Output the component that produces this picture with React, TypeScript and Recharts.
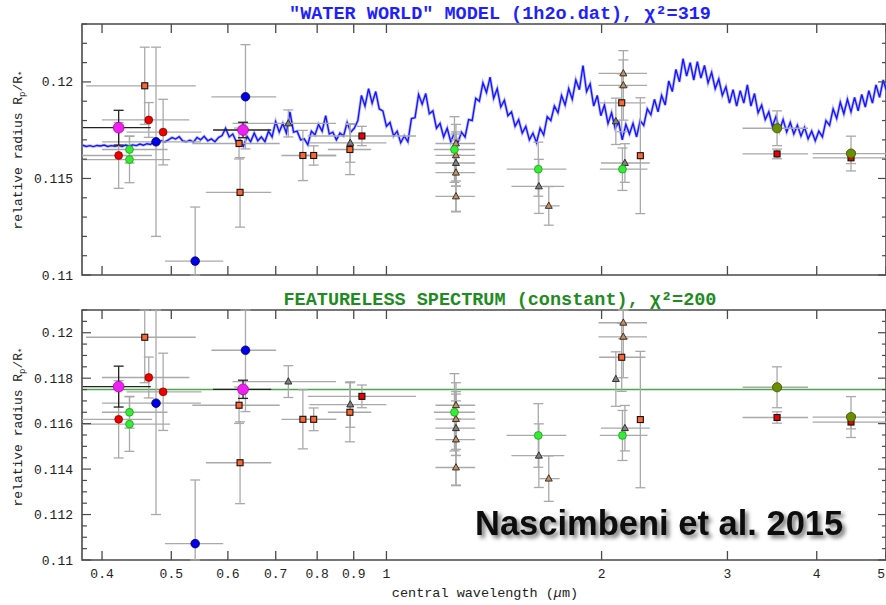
import React from "react";
import {
  ComposedChart,
  ErrorBar,
  Line,
  ReferenceArea,
  ReferenceLine,
  Scatter,
  XAxis,
  YAxis,
} from "recharts";

// ---- axes ----
const WAVE_DOMAIN: [number, number] = [0.375, 5];
const WAVE_TICKS = [0.4, 0.5, 0.6, 0.7, 0.8, 0.9, 1, 2, 3, 4, 5];
const WAVE_TICK_LABELS = ["0.4", "0.5", "0.6", "0.7", "0.8", "0.9", "1", "2", "3", "4", "5"];

const TOP_DOMAIN: [number, number] = [0.11, 0.123];
const TOP_TICKS = [0.11, 0.111, 0.112, 0.113, 0.114, 0.115, 0.116, 0.117, 0.118, 0.119, 0.12, 0.121, 0.122, 0.123];
const TOP_MAJOR = [0.11, 0.115, 0.12];
const TOP_MAJOR_LABELS = ["0.11", "0.115", "0.12"];

const BOTTOM_DOMAIN: [number, number] = [0.11, 0.121];
const BOTTOM_TICKS = [
  0.11, 0.1105, 0.111, 0.1115, 0.112, 0.1125, 0.113, 0.1135, 0.114, 0.1145, 0.115, 0.1155,
  0.116, 0.1165, 0.117, 0.1175, 0.118, 0.1185, 0.119, 0.1195, 0.12, 0.1205, 0.121,
];
const BOTTOM_MAJOR = [0.11, 0.112, 0.114, 0.116, 0.118, 0.12];
const BOTTOM_MAJOR_LABELS = ["0.11", "0.112", "0.114", "0.116", "0.118", "0.12"];

// featureless (constant) model
const FLAT_RADIUS = 0.1175;

// "water world" model, sampled in log10(wavelength / micron)
const MODEL_LOGW = [
  -0.425, -0.42, -0.415, -0.41, -0.405, -0.4, -0.395, -0.39, -0.385, -0.38,
  -0.375, -0.37, -0.365, -0.36, -0.355, -0.35, -0.345, -0.34, -0.335, -0.33,
  -0.325, -0.32, -0.315, -0.31, -0.305, -0.3, -0.295, -0.29, -0.285, -0.28,
  -0.275, -0.27, -0.265, -0.26, -0.255, -0.25, -0.245, -0.24, -0.235, -0.23,
  -0.225, -0.22, -0.215, -0.21, -0.205, -0.2, -0.195, -0.19, -0.185, -0.18,
  -0.175, -0.17, -0.165, -0.16, -0.155, -0.15, -0.145, -0.14, -0.135, -0.13,
  -0.125, -0.12, -0.115, -0.11, -0.105, -0.1, -0.095, -0.09, -0.085, -0.08,
  -0.075, -0.07, -0.065, -0.06, -0.055, -0.05, -0.045, -0.04, -0.035, -0.03,
  -0.025, -0.02, -0.015, -0.01, -0.005, 0, 0.005, 0.01, 0.015, 0.02,
  0.025, 0.03, 0.035, 0.04, 0.045, 0.05, 0.055, 0.06, 0.065, 0.07,
  0.075, 0.08, 0.085, 0.09, 0.095, 0.1, 0.105, 0.11, 0.115, 0.12,
  0.125, 0.13, 0.135, 0.14, 0.145, 0.15, 0.155, 0.16, 0.165, 0.17,
  0.175, 0.18, 0.185, 0.19, 0.195, 0.2, 0.205, 0.21, 0.215, 0.22,
  0.225, 0.23, 0.235, 0.24, 0.245, 0.25, 0.255, 0.26, 0.265, 0.27,
  0.275, 0.28, 0.285, 0.29, 0.295, 0.3, 0.305, 0.31, 0.315, 0.32,
  0.325, 0.33, 0.335, 0.34, 0.345, 0.35, 0.355, 0.36, 0.365, 0.37,
  0.375, 0.38, 0.385, 0.39, 0.395, 0.4, 0.405, 0.41, 0.415, 0.42,
  0.425, 0.43, 0.435, 0.44, 0.445, 0.45, 0.455, 0.46, 0.465, 0.47,
  0.475, 0.48, 0.485, 0.49, 0.495, 0.5, 0.505, 0.51, 0.515, 0.52,
  0.525, 0.53, 0.535, 0.54, 0.545, 0.55, 0.555, 0.56, 0.565, 0.57,
  0.575, 0.58, 0.585, 0.59, 0.595, 0.6, 0.605, 0.61, 0.615, 0.62,
  0.625, 0.63, 0.635, 0.64, 0.645, 0.65, 0.655, 0.66, 0.665, 0.67,
  0.675, 0.68, 0.685, 0.69, 0.695, 0.7,
];
const MODEL_R = [
  0.11672, 0.11666, 0.1167, 0.11665, 0.11671, 0.11668, 0.11673, 0.11666, 0.1167, 0.11667,
  0.11671, 0.11666, 0.11673, 0.11668, 0.11674, 0.1167, 0.11678, 0.11672, 0.1168, 0.11676,
  0.11692, 0.11686, 0.11695, 0.11689, 0.117, 0.11712, 0.11704, 0.11716, 0.11694, 0.1169,
  0.11698, 0.11688, 0.11712, 0.117, 0.11718, 0.11695, 0.11705, 0.1169, 0.11712, 0.11722,
  0.1176, 0.11715, 0.1173, 0.1169, 0.117, 0.11668, 0.11718, 0.1169, 0.11735, 0.11695,
  0.11715, 0.1169, 0.11745, 0.11715, 0.11795, 0.1174, 0.11785, 0.11735, 0.11845, 0.1174,
  0.11745, 0.117, 0.11705, 0.11675, 0.11745, 0.11725, 0.1178, 0.11745, 0.11825, 0.1173,
  0.1174, 0.117, 0.11735, 0.1172, 0.1179, 0.1174, 0.1176, 0.118, 0.1193, 0.11875,
  0.11965, 0.1189, 0.1195, 0.1186, 0.1185, 0.1177, 0.1179, 0.1172, 0.11745, 0.11685,
  0.1172, 0.1169, 0.1181, 0.11815, 0.11935, 0.11885, 0.1194, 0.11835, 0.1185, 0.1176,
  0.11785, 0.11715, 0.1176, 0.1169, 0.11735, 0.11685, 0.1174, 0.11715, 0.11805, 0.118,
  0.11915, 0.119, 0.11995, 0.11945, 0.12025, 0.11915, 0.11965, 0.1187, 0.11905, 0.11825,
  0.11845, 0.1177, 0.11805, 0.11735, 0.1177, 0.117, 0.11735, 0.11685, 0.1176, 0.11725,
  0.1182, 0.118, 0.11875, 0.1184, 0.1193, 0.1188, 0.11965, 0.1191, 0.1201, 0.1196,
  0.12085, 0.1195, 0.1199, 0.11875, 0.1193, 0.11825, 0.1188, 0.11785, 0.1184, 0.1176,
  0.1179, 0.117, 0.1178, 0.1173, 0.11785, 0.11715, 0.118, 0.11775, 0.1186, 0.1183,
  0.1191, 0.11845, 0.1193, 0.1188, 0.12005, 0.1195, 0.12065, 0.12, 0.1212, 0.1203,
  0.121, 0.1201, 0.12105, 0.1202, 0.12085, 0.11995, 0.1205, 0.11965, 0.12015, 0.1193,
  0.11975, 0.1189, 0.1196, 0.11875, 0.11955, 0.1189, 0.11985, 0.11875, 0.1194, 0.1184,
  0.1188, 0.11805, 0.11845, 0.1177, 0.1182, 0.1175, 0.11805, 0.1174, 0.1179, 0.1173,
  0.11775, 0.1172, 0.11765, 0.11705, 0.11745, 0.11695, 0.11745, 0.11715, 0.118, 0.11775,
  0.1186, 0.1181, 0.11895, 0.11835, 0.1191, 0.11845, 0.1192, 0.1185, 0.11935, 0.1187,
  0.11955, 0.1189, 0.11985, 0.1192, 0.1201, 0.1195,
];

// ---- measurements: w = wavelength (micron), r = Rp/R*, errors ----
type Pt = { w: number; r: number; wErr: number | [number, number]; rErr: number };

const BROWN_TRIANGLES: Pt[] = [
  { w: 1.251, r: 0.11681, wErr: 0.08, rErr: 0.0006 },
  { w: 1.251, r: 0.1162, wErr: 0.08, rErr: 0.0016 },
  { w: 1.251, r: 0.1153, wErr: 0.08, rErr: 0.002 },
  { w: 1.251, r: 0.11407, wErr: 0.08, rErr: 0.0008 },
  { w: 1.687, r: 0.11358, wErr: [0.05, 0.06], rErr: 0.001 },
  { w: 2.145, r: 0.12044, wErr: [0.165, 0.17], rErr: 0.0007 },
  { w: 2.145, r: 0.11982, wErr: [0.165, 0.17], rErr: 0.0018 },
];
const GRAY_TRIANGLES: Pt[] = [
  { w: 0.729, r: 0.11785, wErr: [0.12, 0.121], rErr: 0.0007 },
  { w: 0.89, r: 0.11684, wErr: 0.11, rErr: 0.001 },
  { w: 1.251, r: 0.1158, wErr: 0.08, rErr: 0.0012 },
  { w: 1.634, r: 0.11459, wErr: [0.138, 0.139], rErr: 0.0014 },
  { w: 2.094, r: 0.11796, wErr: 0, rErr: 0.0012 },
  { w: 2.156, r: 0.1158, wErr: [0.16, 0.18], rErr: 0.001 },
];
const ORANGE_SQUARES: Pt[] = [
  { w: 0.459, r: 0.1198, wErr: [0.079, 0.082], rErr: 0.002 },
  { w: 0.622, r: 0.11681, wErr: 0.087, rErr: 0.0008 },
  { w: 0.624, r: 0.11428, wErr: [0.065, 0.066], rErr: 0.0018 },
  { w: 0.764, r: 0.11619, wErr: [0.051, 0.086], rErr: 0.0013 },
  { w: 0.791, r: 0.11619, wErr: [0.04, 0.06], rErr: 0.0005 },
  { w: 0.889, r: 0.1165, wErr: [0.061, 0.063], rErr: 0.0013 },
  { w: 2.134, r: 0.11892, wErr: [0.15, 0.17], rErr: 0.0015 },
  { w: 2.266, r: 0.11618, wErr: 0, rErr: 0.003 },
];
const RED_SQUARES: Pt[] = [
  { w: 0.924, r: 0.1172, wErr: [0.148, 0.176], rErr: 0.0005 },
  { w: 3.52, r: 0.11627, wErr: 0.37, rErr: 0.00025 },
  { w: 4.467, r: 0.11607, wErr: [0.52, 0.55], rErr: 0.0003 },
];
const GREEN_CIRCLES: Pt[] = [
  { w: 0.437, r: 0.1165, wErr: [0.037, 0.057], rErr: 0.0007 },
  { w: 0.437, r: 0.11598, wErr: [0.062, 0.061], rErr: 0.0012 },
  { w: 1.245, r: 0.1165, wErr: [0.08, 0.085], rErr: 0.0017 },
  { w: 1.631, r: 0.11548, wErr: [0.158, 0.154], rErr: 0.0014 },
  { w: 2.139, r: 0.11548, wErr: [0.15, 0.18], rErr: 0.0011 },
];
const RED_CIRCLES: Pt[] = [
  { w: 0.422, r: 0.11619, wErr: [0.047, 0.048], rErr: 0.0017 },
  { w: 0.465, r: 0.11803, wErr: 0.065, rErr: 0.0009 },
  { w: 0.487, r: 0.1174, wErr: [0.054, 0.064], rErr: 0.0017 },
];
const BLUE_CIRCLES: Pt[] = [
  { w: 0.476, r: 0.1169, wErr: [0.076, 0.074], rErr: 0.0049 },
  { w: 0.54, r: 0.11072, wErr: [0.05, 0.051], rErr: 0.0028 },
  { w: 0.635, r: 0.11923, wErr: 0.066, rErr: 0.0027 },
];
const OLIVE_CIRCLES: Pt[] = [
  { w: 3.52, r: 0.1176, wErr: 0.37, rErr: 0.0009 },
  { w: 4.467, r: 0.11629, wErr: [0.52, 0.55], rErr: 0.0009 },
];
const MAGENTA_CIRCLES: Pt[] = [
  { w: 0.422, r: 0.11763, wErr: 0.046, rErr: 0.0009 },
  { w: 0.63, r: 0.11751, wErr: [0.058, 0.06], rErr: 0.0004 },
];

const FRAME = "#4a4a4a";
const BAR = "#a9a9a9";
const MONO = "'Liberation Mono', 'Courier New', monospace";

const circle = (r: number, fill: string, stroke: string) => (p: any) => (
  <circle cx={p.cx} cy={p.cy} r={r} fill={fill} stroke={stroke} strokeWidth={0.8} />
);
const square = (s: number, fill: string) => (p: any) => (
  <rect x={p.cx - s / 2} y={p.cy - s / 2} width={s} height={s} fill={fill} stroke="#111" strokeWidth={1.1} />
);
const triangle = (s: number, fill: string) => (p: any) => (
  <polygon
    points={`${p.cx},${p.cy - s * 0.55} ${p.cx - s / 2},${p.cy + s * 0.35} ${p.cx + s / 2},${p.cy + s * 0.35}`}
    fill={fill}
    stroke="#222"
    strokeWidth={0.9}
  />
);

const SERIES = [
  { name: "brownTri", data: BROWN_TRIANGLES, shape: triangle(7, "#c8905e"), bar: BAR },
  { name: "grayTri", data: GRAY_TRIANGLES, shape: triangle(7, "#808080"), bar: BAR },
  { name: "orangeSq", data: ORANGE_SQUARES, shape: square(6, "#ff6633"), bar: BAR },
  { name: "redSq", data: RED_SQUARES, shape: square(6, "#ee0000"), bar: BAR },
  { name: "green", data: GREEN_CIRCLES, shape: circle(3.9, "#33ee33", "#229922"), bar: BAR },
  { name: "redCirc", data: RED_CIRCLES, shape: circle(3.9, "#ee0000", "#880000"), bar: BAR },
  { name: "blue", data: BLUE_CIRCLES, shape: circle(4.3, "#0000e6", "#000066"), bar: BAR },
  { name: "olive", data: OLIVE_CIRCLES, shape: circle(4.6, "#6b8e00", "#3a4d00"), bar: BAR },
  { name: "magenta", data: MAGENTA_CIRCLES, shape: circle(5.4, "#ee22ee", "#b000b0"), bar: "#222" },
];

const modelRows = MODEL_LOGW.map((lw, i) => ({ w: Math.pow(10, lw), r: MODEL_R[i] }));

// error bars stop at the frame, as in the original plot
const clipToPanel = (pts: Pt[], domain: [number, number]) =>
  pts.map((p) => ({
    ...p,
    rErr: [Math.min(p.rErr, p.r - domain[0]), Math.min(p.rErr, domain[1] - p.r)],
  }));

const near = (a: number, b: number) => Math.abs(a - b) < 1e-7;

const makeWaveTick = (plotTop: number, withLabels: boolean) => (props: any) => {
  const { x, y, payload } = props;
  const i = WAVE_TICKS.findIndex((t) => near(t, payload.value));
  const last = i === WAVE_TICKS.length - 1;
  return (
    <g>
      <line x1={x} x2={x} y1={y} y2={y - 9} stroke={FRAME} strokeWidth={1.3} />
      <line x1={x} x2={x} y1={plotTop} y2={plotTop + 9} stroke={FRAME} strokeWidth={1.3} />
      {withLabels && (
        <text
          x={last ? x - 1 : x}
          y={y + 18}
          textAnchor={last ? "end" : "middle"}
          fontFamily={MONO}
          fontSize={13}
          fill="#222"
        >
          {WAVE_TICK_LABELS[i]}
        </text>
      )}
    </g>
  );
};

const makeRadiusTick = (major: number[], labels: string[], rightX: number) => (props: any) => {
  const { x, y, payload } = props;
  const i = major.findIndex((m) => near(m, payload.value));
  const isMajor = i >= 0;
  return (
    <g>
      <line x1={x} x2={x + (isMajor ? 9 : 5)} y1={y} y2={y} stroke={FRAME} strokeWidth={1.2} />
      <line x1={rightX} x2={rightX - (isMajor ? 8 : 4)} y1={y} y2={y} stroke={FRAME} strokeWidth={1.2} />
      {isMajor && (
        <text x={x - 9} y={y + 4.5} textAnchor="end" fontFamily={MONO} fontSize={13} fill="#222">
          {labels[i]}
        </text>
      )}
    </g>
  );
};

type PanelProps = {
  height: number;
  marginTop: number;
  axisHeight: number;
  domain: [number, number];
  ticks: number[];
  major: number[];
  majorLabels: string[];
  waveLabels: boolean;
  showModel: boolean;
  showFlat: boolean;
};

function Panel(p: PanelProps) {
  return (
    <ComposedChart width={886} height={p.height} margin={{ top: p.marginTop, right: 0, bottom: 0, left: 0 }}>
      <XAxis
        dataKey="w"
        type="number"
        scale="log"
        domain={WAVE_DOMAIN}
        allowDataOverflow
        ticks={WAVE_TICKS}
        interval={0}
        height={p.axisHeight}
        axisLine={false}
        tickLine={false}
        tickSize={0}
        tickMargin={0}
        tick={makeWaveTick(p.marginTop, p.waveLabels)}
      />
      <YAxis
        dataKey="r"
        type="number"
        domain={p.domain}
        allowDataOverflow
        ticks={p.ticks}
        interval={0}
        width={82}
        axisLine={false}
        tickLine={false}
        tickSize={0}
        tickMargin={0}
        tick={makeRadiusTick(p.major, p.majorLabels, 886)}
      />
      <ReferenceArea
        x1={WAVE_DOMAIN[0]}
        x2={WAVE_DOMAIN[1]}
        y1={p.domain[0]}
        y2={p.domain[1]}
        fill="none"
        fillOpacity={0}
        stroke={FRAME}
        strokeWidth={1.6}
      />
      {p.showFlat && <ReferenceLine y={FLAT_RADIUS} stroke="#4aa84a" strokeWidth={1.6} />}
      {p.showModel && (
        <Line
          data={modelRows}
          dataKey="r"
          stroke="#8c8cff"
          strokeOpacity={0.55}
          strokeWidth={3}
          dot={false}
          isAnimationActive={false}
        />
      )}
      {p.showModel && (
        <Line
          data={modelRows}
          dataKey="r"
          stroke="#1515ff"
          strokeWidth={1.4}
          dot={false}
          isAnimationActive={false}
        />
      )}
      {SERIES.map((s) => (
        <Scatter key={s.name} data={clipToPanel(s.data, p.domain)} shape={s.shape} isAnimationActive={false}>
          <ErrorBar dataKey="wErr" direction="x" width={0} stroke={s.bar} strokeWidth={1.3} />
          <ErrorBar dataKey="rErr" direction="y" width={5} stroke={s.bar} strokeWidth={1.3} />
        </Scatter>
      ))}
    </ComposedChart>
  );
}

export default function App() {
  return (
    <div
      style={{
        position: "absolute",
        left: 0,
        top: 0,
        width: 886,
        height: 605,
        background: "#fff",
        overflow: "hidden",
      }}
    >
      <div style={{ position: "absolute", left: 0, top: 0 }}>
        <Panel
          height={290}
          marginTop={24}
          axisHeight={15}
          domain={TOP_DOMAIN}
          ticks={TOP_TICKS}
          major={TOP_MAJOR}
          majorLabels={TOP_MAJOR_LABELS}
          waveLabels={false}
          showModel
          showFlat={false}
        />
      </div>
      <div style={{ position: "absolute", left: 0, top: 290 }}>
        <Panel
          height={315}
          marginTop={20}
          axisHeight={45}
          domain={BOTTOM_DOMAIN}
          ticks={BOTTOM_TICKS}
          major={BOTTOM_MAJOR}
          majorLabels={BOTTOM_MAJOR_LABELS}
          waveLabels
          showModel={false}
          showFlat
        />
      </div>
      <svg
        width={886}
        height={605}
        style={{ position: "absolute", left: 0, top: 0, pointerEvents: "none" }}
      >
        <defs>
          <filter id="txtShadow" x="-10%" y="-30%" width="130%" height="170%">
            <feDropShadow dx={3} dy={3} stdDeviation={2} floodColor="#000" floodOpacity={0.55} />
          </filter>
        </defs>
        <text x={500} y={19} textAnchor="middle" fontFamily={MONO} fontWeight="bold" fontSize={18.5} fill="#1f1fff">
          "WATER WORLD" MODEL (1h2o.dat), χ²=319
        </text>
        <text x={500} y={305} textAnchor="middle" fontFamily={MONO} fontWeight="bold" fontSize={18.5} fill="#1e8c1e">
          FEATURELESS SPECTRUM (constant), χ²=200
        </text>
        {[150, 427].map((cy) => (
          <text
            key={cy}
            transform={`translate(22,${cy}) rotate(-90)`}
            textAnchor="middle"
            fontFamily={MONO}
            fontSize={13}
            fill="#222"
          >
            relative radius R<tspan fontSize={9} dy={3}>p</tspan>
            <tspan dy={-3}>/R</tspan>
            <tspan fontSize={9} dy={3}>*</tspan>
          </text>
        ))}
        <text x={485} y={597} textAnchor="middle" fontFamily={MONO} fontSize={13.5} fill="#222">
          central wavelength (<tspan fontStyle="italic">μ</tspan>m)
        </text>
        <text
          x={475}
          y={535}
          fontFamily="'Liberation Sans', Arial, sans-serif"
          fontWeight="bold"
          fontSize={34.5}
          fill="#111"
          filter="url(#txtShadow)"
        >
          Nascimbeni et al. 2015
        </text>
      </svg>
    </div>
  );
}
